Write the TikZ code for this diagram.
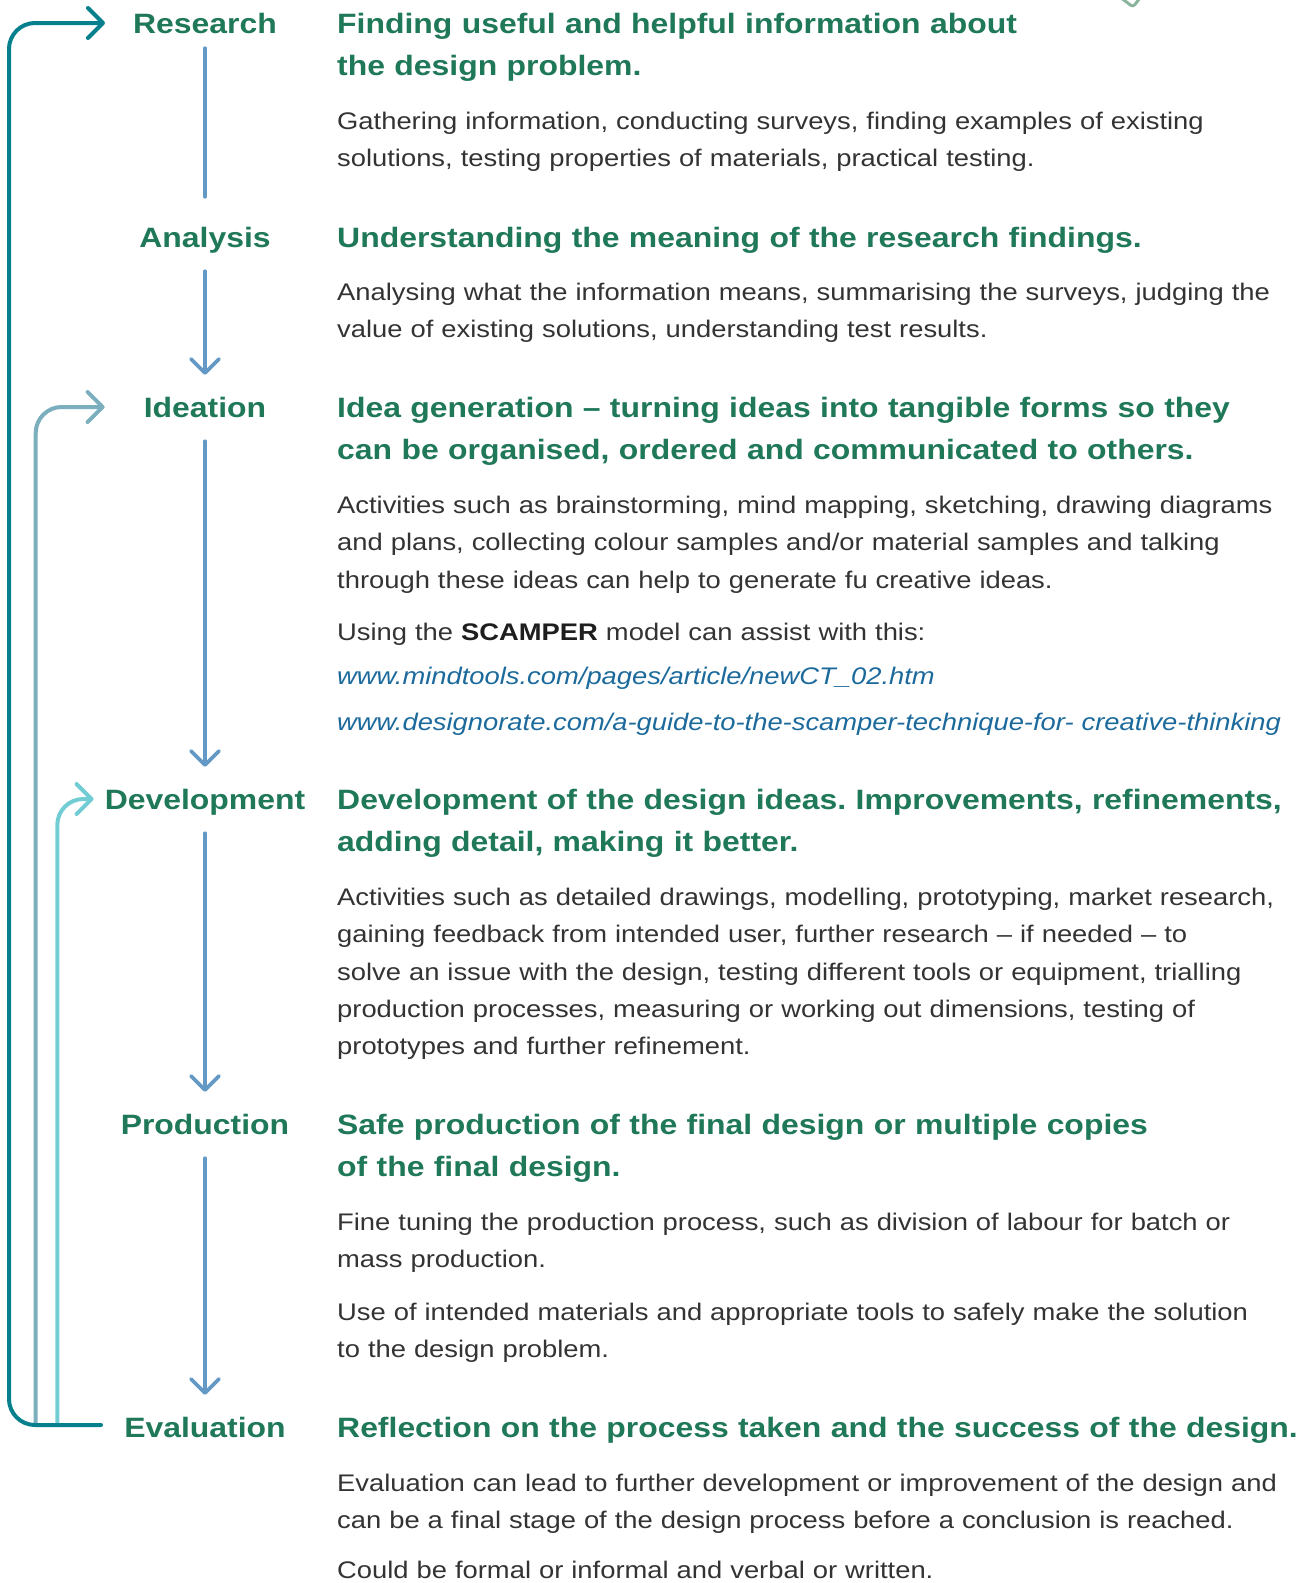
\documentclass[tikz,border=0pt]{standalone}
\usepackage{fontspec}
\setmainfont{Liberation Sans}[FakeStretch=1.14]
\usetikzlibrary{arrows.meta,positioning}
\frenchspacing

\definecolor{stagegreen}{HTML}{1F7857}
\definecolor{bodygrey}{HTML}{333333}
\definecolor{flowblue}{HTML}{6399C4}
\definecolor{loopteal}{HTML}{06808C}
\definecolor{loopgrey}{HTML}{7BAFBE}
\definecolor{loopcyan}{HTML}{72CCD4}
\definecolor{linkblue}{HTML}{1C6A9C}
\definecolor{leafgreen}{HTML}{8AB59C}
\definecolor{boldblack}{HTML}{1E1E1E}

% first-line struts, so that north west sits a fixed height above the baseline
\newcommand{\headstrut}{\rule{0pt}{30pt}}
\newcommand{\bodystrut}{\rule{0pt}{26pt}}

\begin{document}
\begin{tikzpicture}[x=1pt,y=-1pt,
                    stage/.style={inner sep=0pt,anchor=base,text height=24pt,text depth=4pt,
                                  text=stagegreen,font=\fontsize{28}{34}\selectfont\bfseries},
                    heading/.style={inner sep=0pt,anchor=north west,text width=1050pt,align=left,
                                    text=stagegreen,font=\fontsize{28}{42.6}\selectfont\bfseries},
                    para/.style={inner sep=0pt,anchor=north west,text width=1050pt,align=left,
                                 text=bodygrey,font=\fontsize{24}{37.4}\selectfont},
                    link/.style={para,text=linkblue,font=\fontsize{24}{37.4}\selectfont\itshape},
                    flowline/.style={draw=flowblue,line width=3.6pt,line cap=round,
                                     shorten <=20pt,shorten >=18pt},
                    flow/.style={flowline,-{Straight Barb[length=14pt,width=28pt,round]}},
                    backloop/.style={line width=4pt,line cap=round,rounded corners=26pt,
                                     -{Straight Barb[length=15pt,width=30pt,round]}}]
  \useasboundingbox (0,0) rectangle (1300,1583);

  % stage names
  \node[stage] (research)    at (205,33)   {Research};
  \node[stage] (analysis)    at (205,247)  {Analysis};
  \node[stage] (ideation)    at (205,417)  {Ideation};
  \node[stage] (development) at (205,809)  {Development};
  \node[stage] (production)  at (205,1134) {Production};
  \node[stage] (evaluation)  at (205,1437) {Evaluation};

  % headings
  \node[heading] (research head) at (337,3)
    {\headstrut Finding useful and helpful information about\\the design problem.};
  \node[heading] (analysis head) at (337,217)
    {\headstrut Understanding the meaning of the research findings.};
  \node[heading] (ideation head) at (337,387)
    {\headstrut Idea generation – turning ideas into tangible forms so they\\can be organised, ordered and communicated to others.};
  \node[heading] (development head) at (337,779)
    {\headstrut Development of the design ideas. Improvements, refinements,\\adding detail, making it better.};
  \node[heading] (production head) at (337,1104)
    {\headstrut Safe production of the final design or multiple copies\\of the final design.};
  \node[heading] (evaluation head) at (337,1407)
    {\headstrut Reflection on the process taken and the success of the design.};

  % descriptions
  \node[para] (research text) at (337,103)
    {\bodystrut Gathering information, conducting surveys, finding examples of existing\\solutions, testing properties of materials, practical testing.};
  \node[para] (analysis text) at (337,274)
    {\bodystrut Analysing what the information means, summarising the surveys, judging the\\value of existing solutions, understanding test results.};
  \node[para] (ideation text) at (337,487)
    {\bodystrut Activities such as brainstorming, mind mapping, sketching, drawing diagrams\\and plans, collecting colour samples and/or material samples and talking\\through these ideas can help to generate fu creative ideas.};
  \node[para] (scamper) at (337,614)
    {\bodystrut Using the {\color{boldblack}\bfseries SCAMPER} model can assist with this:};
  \node[link] (link one) at (337,658)
    {\bodystrut www.mindtools.com/pages/article/newCT\_02.htm};
  \node[link] (link two) at (337,704)
    {\bodystrut www.designorate.com/a-guide-to-the-scamper-technique-for- creative-thinking};
  \node[para] (development text) at (337,879)
    {\bodystrut Activities such as detailed drawings, modelling, prototyping, market research,\\gaining feedback from intended user, further research – if needed – to\\solve an issue with the design, testing different tools or equipment, trialling\\production processes, measuring or working out dimensions, testing of\\prototypes and further refinement.};
  \node[para] (production text) at (337,1204)
    {\bodystrut Fine tuning the production process, such as division of labour for batch or\\mass production.};
  \node[para] (production more) at (337,1294)
    {\bodystrut Use of intended materials and appropriate tools to safely make the solution\\to the design problem.};
  \node[para] (evaluation text) at (337,1465)
    {\bodystrut Evaluation can lead to further development or improvement of the design and\\can be a final stage of the design process before a conclusion is reached.};
  \node[para] (evaluation more) at (337,1552.5)
    {\bodystrut Could be formal or informal and verbal or written.};

  % main flow
  \draw[flowline,shorten <=11pt,shorten >=26pt] (research.south) -- (analysis.north);
  \draw[flow] (analysis.south) -- (ideation.north);
  \draw[flow] (ideation.south) -- (development.north);
  \draw[flow] (development.south) -- (production.north);
  \draw[flow] (production.south) -- (evaluation.north);

  % feedback loops
  \coordinate (foot teal) at (101,1425);
  \coordinate (foot grey) at (35.7,1425);
  \coordinate (foot cyan) at (57.3,1425);
  \draw[backloop,draw=loopcyan,shorten >=11pt] (foot cyan) |- (development.west);
  \draw[backloop,draw=loopgrey,shorten >=39pt] (foot grey) |- (ideation.west);
  \draw[backloop,draw=loopteal,shorten >=28pt] (foot teal) -| (9,23) -- (research.west);

  % corner of a shape cut off at the top
  \draw[draw=leafgreen,line width=3pt,line cap=round,rounded corners=3pt] (1116,-6) -- (1133,7) -- (1143,-6);
\end{tikzpicture}
\end{document}
